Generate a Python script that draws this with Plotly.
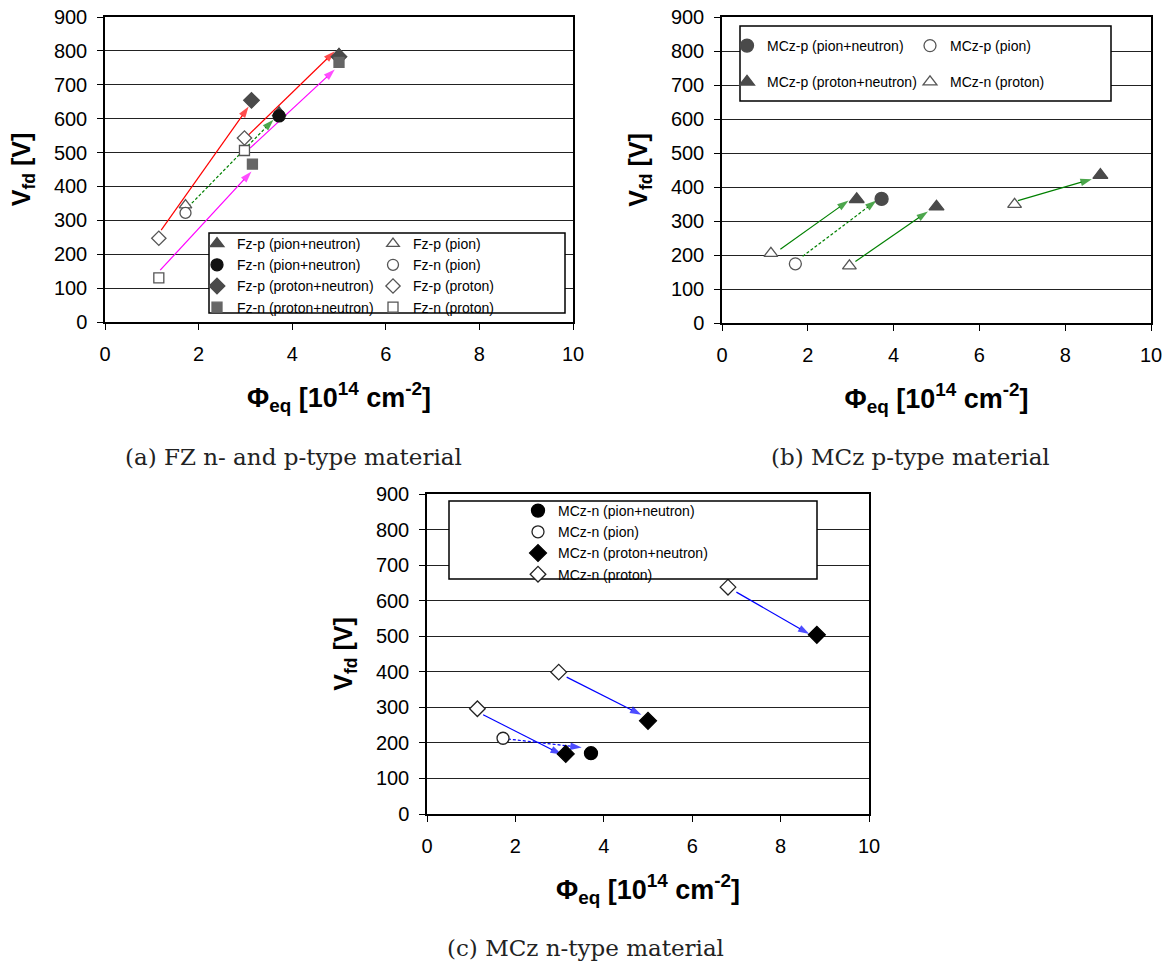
import plotly.graph_objects as go

# ---------------- data ----------------
# Panel (a): FZ n- and p-type
fzp_pn_x = [3.72, 5.0];  fzp_pn_y = [617, 790]
fzn_pn_x = [3.72];       fzn_pn_y = [608]
fzp_prn_x = [3.13, 5.0]; fzp_prn_y = [654, 783]
fzn_prn_x = [3.15, 5.0]; fzn_prn_y = [466, 766]
fzp_pi_x = [1.72];       fzp_pi_y = [345]
fzn_pi_x = [1.72];       fzn_pi_y = [322]
fzp_pr_x = [1.15, 2.98]; fzp_pr_y = [247, 543]
fzn_pr_x = [1.15, 2.98]; fzn_pr_y = [130, 506]
# arrows (x0, y0, x1, y1, colour, dashed)
arrows_a = [
    (1.20, 271, 3.07, 636, "#ff0000", False),
    (3.03, 547, 4.91, 799, "#ff0000", False),
    (1.78, 340, 3.60, 597, "#008000", True),
    (1.18, 153, 3.13, 444, "#ff00ff", False),
    (3.10, 513, 4.91, 745, "#ff00ff", False),
]

# Panel (b): MCz p-type
mczp_pn_x = [3.72];             mczp_pn_y = [365]
mczp_pi_x = [1.71];             mczp_pi_y = [174]
mczp_prn_x = [3.14, 5.0, 8.82]; mczp_prn_y = [364, 342, 435]
mczp_pr_x = [1.14, 2.97, 6.82]; mczp_pr_y = [205, 168, 349]
arrows_b = [
    (1.36, 217, 2.95, 360, "#008000", False),
    (1.88, 196, 3.60, 360, "#008000", True),
    (3.11, 181, 4.80, 328, "#008000", False),
    (6.90, 360, 8.62, 423, "#008000", False),
]

# Panel (c): MCz n-type
mczn_pn_x = [3.71];             mczn_pn_y = [171]
mczn_pi_x = [1.72];             mczn_pi_y = [213]
mczn_prn_x = [3.14, 5.0, 8.82]; mczn_prn_y = [169, 262, 504]
mczn_pr_x = [1.14, 2.98, 6.81]; mczn_pr_y = [296, 399, 638]
arrows_c = [
    (1.27, 279, 3.05, 167, "#0000ff", False),
    (1.83, 211, 3.50, 187, "#0000ff", True),
    (3.16, 385, 4.85, 279, "#0000ff", False),
    (7.00, 624, 8.65, 506, "#0000ff", False),
]

x_ticks = [0, 2, 4, 6, 8, 10]
y_ticks = [0, 100, 200, 300, 400, 500, 600, 700, 800, 900]

W, H = 1169, 967
FONT = "Liberation Sans, Arial, Helvetica, sans-serif"
SERIF = "DejaVu Serif, Liberation Serif, serif"
DARK = "#4a4a4a"
OPEN = "#555555"

fig = go.Figure()


def pts(xs, ys, name, ax, legend, symbol, fill, line, size, group):
    fig.add_trace(go.Scatter(
        x=xs, y=ys, mode="markers", name=name,
        xaxis="x" + ax, yaxis="y" + ax, legend=legend, legendgroup=group,
        marker=dict(symbol=symbol, size=size, color=fill,
                    line=dict(color=line, width=1.3)),
    ))


def arrows(lst, ax):
    for x0, y0, x1, y1, col, dashed in lst:
        fig.add_trace(go.Scatter(
            x=[x0, x1], y=[y0, y1], mode="lines+markers", showlegend=False,
            xaxis="x" + ax, yaxis="y" + ax, hoverinfo="skip",
            line=dict(color=col, width=1.2, dash="3px,2px" if dashed else "solid"),
            marker=dict(symbol=["circle", "arrow"], size=[0, 12], color=col,
                        angleref="previous", line=dict(width=0)),
        ))


# panel (a)
arrows(arrows_a, "")
pts(fzp_pn_x, fzp_pn_y, "Fz-p (pion+neutron)", "", "legend", "triangle-up", DARK, DARK, 12, "a1")
pts(fzn_pn_x, fzn_pn_y, "Fz-n (pion+neutron)", "", "legend", "circle", "#111111", "#111111", 12, "a2")
pts(fzp_prn_x, fzp_prn_y, "Fz-p (proton+neutron)", "", "legend", "diamond", DARK, DARK, 12, "a3")
pts(fzn_prn_x, fzn_prn_y, "Fz-n (proton+neutron)", "", "legend", "square", "#666666", "#666666", 10, "a4")
pts(fzp_pi_x, fzp_pi_y, "Fz-p (pion)", "", "legend2", "triangle-up", "white", OPEN, 11, "a5")
pts(fzn_pi_x, fzn_pi_y, "Fz-n (pion)", "", "legend2", "circle", "white", OPEN, 11, "a6")
pts(fzp_pr_x, fzp_pr_y, "Fz-p (proton)", "", "legend2", "diamond", "white", OPEN, 11, "a7")
pts(fzn_pr_x, fzn_pr_y, "Fz-n (proton)", "", "legend2", "square", "white", OPEN, 10, "a8")

# panel (b)
arrows(arrows_b, "2")
pts(mczp_pn_x, mczp_pn_y, "MCz-p (pion+neutron)", "2", "legend3", "circle", DARK, DARK, 13, "b1")
pts(mczp_prn_x, mczp_prn_y, "MCz-p (proton+neutron)", "2", "legend3", "triangle-up", DARK, DARK, 13, "b2")
pts(mczp_pi_x, mczp_pi_y, "MCz-p (pion)", "2", "legend4", "circle", "white", OPEN, 12, "b3")
pts(mczp_pr_x, mczp_pr_y, "MCz-n (proton)", "2", "legend4", "triangle-up", "white", OPEN, 12, "b4")

# panel (c)
arrows(arrows_c, "3")
pts(mczn_pn_x, mczn_pn_y, "MCz-n (pion+neutron)", "3", "legend5", "circle", "#000000", "#000000", 13, "c1")
pts(mczn_pi_x, mczn_pi_y, "MCz-n (pion)", "3", "legend5", "circle", "white", "#222222", 12, "c2")
pts(mczn_prn_x, mczn_prn_y, "MCz-n (proton+neutron)", "3", "legend5", "diamond", "#000000", "#000000", 13, "c3")
pts(mczn_pr_x, mczn_pr_y, "MCz-n (proton)", "3", "legend5", "diamond", "white", "#222222", 12, "c4")


def px_x(p):
    return p / W


def px_y(p):
    return 1 - p / H


xt = "<b>Φ<sub>eq</sub> [10<sup>14</sup> cm<sup>-2</sup>]</b>"
yt = "<b>V<sub>fd</sub> [V]</b>"


def xaxis(dom, anchor):
    return dict(domain=dom, anchor=anchor, range=[0, 10], tickvals=x_ticks,
                showline=True, linecolor="black", linewidth=1.5, mirror=True,
                ticks="outside", ticklen=6, tickcolor="black", showgrid=False,
                zeroline=False, automargin=False, ticklabelstandoff=7,
                tickfont=dict(family=FONT, size=20, color="black"),
                title=dict(text=xt, font=dict(family=FONT, size=27, color="black"), standoff=24))


def yaxis(dom, anchor):
    return dict(domain=dom, anchor=anchor, range=[0, 900], tickvals=y_ticks,
                showline=True, linecolor="black", linewidth=1.5, mirror=True,
                ticks="outside", ticklen=6, tickcolor="black", showgrid=True,
                gridcolor="#222222", gridwidth=1, zeroline=False, automargin=False,
                ticklabelstandoff=6,
                tickfont=dict(family=FONT, size=20, color="black"),
                title=dict(text=yt, font=dict(family=FONT, size=25, color="black"), standoff=16))


leg_common = dict(bgcolor="rgba(0,0,0,0)", borderwidth=0, orientation="v",
                  xanchor="left", yanchor="top", itemclick=False,
                  font=dict(family=FONT, size=14, color="black"))

fig.update_layout(
    width=W, height=H, margin=dict(l=0, r=0, t=0, b=0, autoexpand=False),
    paper_bgcolor="white", plot_bgcolor="white",
    xaxis=xaxis([px_x(105), px_x(573)], "y"),
    yaxis=yaxis([px_y(322), px_y(17)], "x"),
    xaxis2=xaxis([px_x(722), px_x(1151)], "y2"),
    yaxis2=yaxis([px_y(323), px_y(17)], "x2"),
    xaxis3=xaxis([px_x(427), px_x(869)], "y3"),
    yaxis3=yaxis([px_y(814), px_y(494)], "x3"),
    legend=dict(leg_common, x=px_x(197), y=px_y(228), tracegroupgap=0),
    legend2=dict(leg_common, x=px_x(373), y=px_y(228), tracegroupgap=0),
    legend3=dict(leg_common, x=px_x(727), y=px_y(30), tracegroupgap=15),
    legend4=dict(leg_common, x=px_x(910), y=px_y(30), tracegroupgap=15),
    legend5=dict(leg_common, x=px_x(518), y=px_y(495), tracegroupgap=0),
    showlegend=True,
)

# legend frames
for (x0, y0, x1, y1) in [(209, 233, 565, 313), (740, 26, 1111, 101), (449, 501, 817, 579)]:
    fig.add_shape(type="rect", xref="paper", yref="paper",
                  x0=px_x(x0), x1=px_x(x1), y0=px_y(y1), y1=px_y(y0),
                  line=dict(color="black", width=1.5), fillcolor="white", layer="above")

# captions
for text, cx, cy in [("(a) FZ n- and p-type material", 293, 457),
                     ("(b) MCz p-type material", 910, 457),
                     ("(c) MCz n-type material", 585, 948)]:
    fig.add_annotation(text=text, x=px_x(cx), y=px_y(cy), xref="paper", yref="paper",
                       showarrow=False, xanchor="center", yanchor="middle",
                       font=dict(family=SERIF, size=23, color="#222222"))

fig.write_html("out.html", config={"displayModeBar": False},
               post_script="document.body.style.margin='0';")
